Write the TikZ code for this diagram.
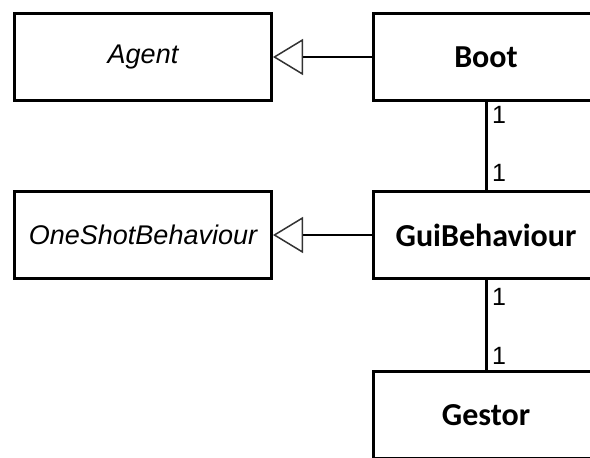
\documentclass[tikz,border=0pt]{standalone}
\usepackage{fontspec}
\setmainfont{Liberation Sans}
\newfontfamily\carlito{Carlito}
\newfontfamily\multfont{Liberation Sans}
\usetikzlibrary{arrows.meta}
\tikzset{
  classbox/.style={draw=black, line width=3pt, fill=white, inner sep=0pt, minimum height=87pt},
  abstractbox/.style={classbox, minimum width=257pt, font=\fontsize{27}{31}\selectfont\itshape},
  concretebox/.style={classbox, minimum width=225pt, font=\carlito\fontsize{32}{36}\selectfont\bfseries},
  inherit/.style={line width=2.5pt, -{Triangle[open, length=30pt, width=36pt, line width=1.5pt, color=black!80]}},
  assoc/.style={line width=3pt},
  mult/.style={font=\multfont\fontsize{25}{28}\selectfont, inner sep=0pt, anchor=west}
}
\begin{document}
\begin{tikzpicture}[x=1pt, y=-1pt]
\useasboundingbox (0,0) rectangle (590,458);
\begin{scope}
\clip (0,0) rectangle (590,458);
\node[abstractbox] (agent) at (143,57) {Agent};
\node[abstractbox] (osb) at (143,235) {OneShotBehaviour};
\node[concretebox] (boot) at (486,57) {Boot};
\node[concretebox] (gui) at (486,235) {GuiBehaviour};
\node[concretebox] (gestor) at (486,415) {Gestor};
\draw[inherit] (boot.west) -- (agent.east);
\draw[inherit] (gui.west) -- (osb.east);
\draw[assoc] (boot.south) -- (gui.north);
\draw[assoc] (gui.south) -- (gestor.north);
\node[mult] (m1) at (492,115) {1};
\node[mult] (m2) at (492,173) {1};
\node[mult] (m3) at (492,297) {1};
\node[mult] (m4) at (492,356) {1};
\end{scope}
\end{tikzpicture}
\end{document}
